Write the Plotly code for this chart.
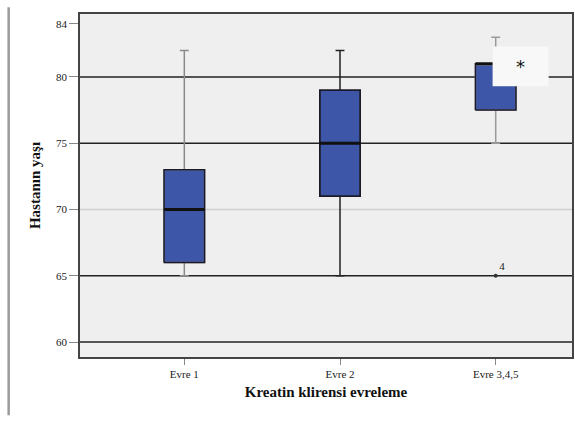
import plotly.graph_objects as go

# Age distribution of patients by creatinine clearance stage
categories = ["Evre 1", "Evre 2", "Evre 3,4,5"]
lower_whisker = [65, 65, 75]
q1 = [66, 71, 77.5]
median = [70, 75, 81]
q3 = [73, 79, 81]
upper_whisker = [82, 82, 83]

outlier_cat = ["Evre 3,4,5"]
outlier_age = [65]
outlier_label = ["4"]

y_tickvals = [60, 65, 70, 75, 80, 84]
y_ticktext = ["60", "65", "70", "75", "80", "84"]
ref_lines = [60, 65, 70, 75, 80]
ref_colors = ["#222222", "#222222", "#cfcfcf", "#222222", "#222222"]

whisker_colors = ["#8a8a8a", "#222222", "#9a9a9a"]
box_fill = "#3d56a8"
serif = "Liberation Serif, Times New Roman, serif"
half_w = 0.13

fig = go.Figure()

for i, cat in enumerate(categories):
    fig.add_trace(go.Box(
        x=[i], q1=[q1[i]], median=[median[i]], q3=[q3[i]],
        lowerfence=[lower_whisker[i]], upperfence=[upper_whisker[i]],
        fillcolor=box_fill,
        line=dict(color=whisker_colors[i], width=1.5),
        width=2 * half_w, whiskerwidth=0.22,
        boxpoints=False, hoverinfo="skip", showlegend=False, name=cat,
    ))
    # box outline drawn over the fill
    fig.add_trace(go.Scatter(
        x=[i - half_w, i + half_w, i + half_w, i - half_w, i - half_w],
        y=[q1[i], q1[i], q3[i], q3[i], q1[i]],
        mode="lines", line=dict(color="#1a1a2a", width=1.5),
        hoverinfo="skip", showlegend=False,
    ))
    # heavier median bar across the box
    fig.add_trace(go.Scatter(
        x=[i - half_w, i + half_w], y=[median[i], median[i]],
        mode="lines", line=dict(color="#111111", width=3),
        hoverinfo="skip", showlegend=False,
    ))

fig.add_trace(go.Scatter(
    x=[categories.index(c) for c in outlier_cat], y=outlier_age,
    mode="markers+text", text=outlier_label, textposition="top right",
    textfont=dict(family=serif, size=11, color="#222222"),
    marker=dict(symbol="circle", size=4, color="#333333"),
    hoverinfo="skip", showlegend=False,
))

shapes = []
for val, col in zip(ref_lines, ref_colors):
    shapes.append(dict(type="line", xref="paper", yref="y", x0=0, x1=1,
                       y0=val, y1=val, line=dict(color=col, width=1.6),
                       layer="below"))
# extreme-value marker panel
shapes.append(dict(type="rect", xref="x", yref="y", x0=1.98, x1=2.34,
                   y0=79.3, y1=82.3, fillcolor="#f8f8f8",
                   line=dict(width=0), layer="above"))
# left page rule
shapes.append(dict(type="line", xref="paper", yref="paper",
                   x0=-0.145, x1=-0.145, y0=-0.17, y1=1.02,
                   line=dict(color="#9a9a9a", width=2.5)))

fig.add_annotation(x=2.16, y=80.8, xref="x", yref="y", text="*",
                   showarrow=False, font=dict(family="DejaVu Sans", size=18, color="#111111"))

fig.update_layout(
    width=575, height=421,
    margin=dict(l=80, r=1, t=14, b=64),
    paper_bgcolor="white", plot_bgcolor="#efefef",
    shapes=shapes,
    font=dict(family=serif, size=11, color="#222222"),
)
fig.update_xaxes(
    type="linear", range=[-0.67, 2.49],
    tickvals=list(range(len(categories))), ticktext=categories,
    ticks="outside", ticklen=6, tickcolor="#888888",
    showgrid=False, zeroline=False,
    showline=True, linecolor="#444444", linewidth=1.5, mirror=True,
    title=dict(text="<b>Kreatin klirensi evreleme</b>",
               font=dict(family=serif, size=15, color="#111111"), standoff=8),
    tickfont=dict(family=serif, size=11),
)
fig.update_yaxes(
    range=[58.87, 84.75],
    tickvals=y_tickvals, ticktext=y_ticktext,
    ticks="outside", ticklen=9, tickcolor="#888888",
    showgrid=False, zeroline=False,
    showline=True, linecolor="#444444", linewidth=1.5, mirror=True,
    title=dict(text="<b>Hastanın yaşı</b>",
               font=dict(family=serif, size=15, color="#111111"), standoff=12),
    tickfont=dict(family=serif, size=11),
)

fig.write_html("out.html")
